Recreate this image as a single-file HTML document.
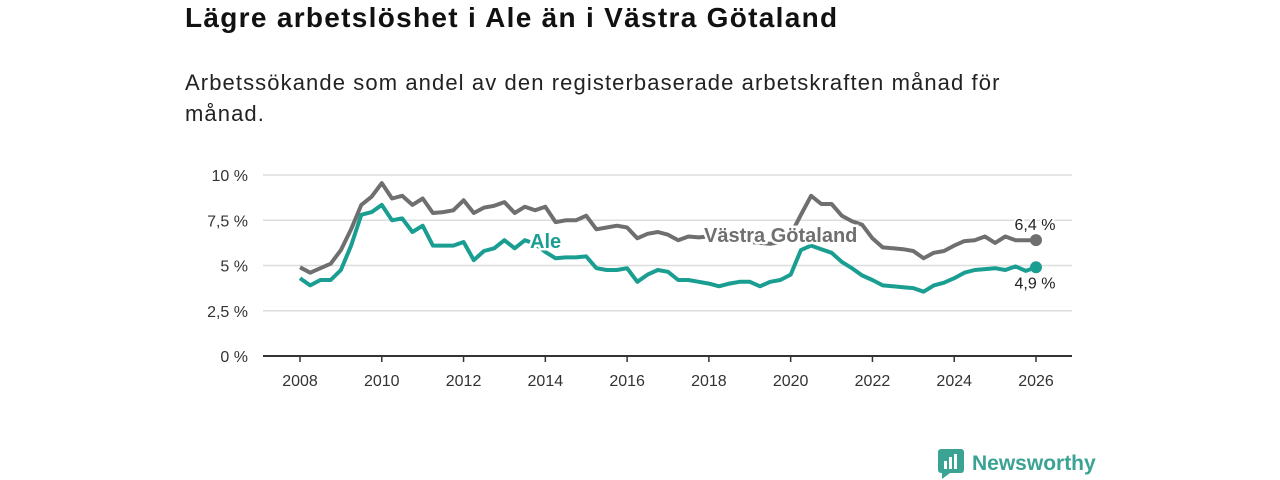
<!DOCTYPE html>
<html><head><meta charset="utf-8"><style>
body{margin:0;width:1280px;height:480px;background:#fff;font-family:"Liberation Sans",sans-serif;overflow:hidden;position:relative}
h1{position:absolute;left:185px;top:2px;margin:0;font-size:28px;letter-spacing:1.3px;font-weight:bold;color:#111}
p{position:absolute;left:185px;top:67px;margin:0;font-size:22px;letter-spacing:1.1px;line-height:31px;color:#222;width:860px}
svg{position:absolute;left:0;top:0}
</style></head><body>
<h1>Lägre arbetslöshet i Ale än i Västra Götaland</h1>
<p>Arbetssökande som andel av den registerbaserade arbetskraften månad för månad.</p>
<svg width="1280" height="480" id="chart"></svg>
<div style="position:absolute;left:938px;top:449px;display:flex;align-items:center;gap:8px">
<svg width="26" height="30" style="position:static"><rect x="0" y="0" width="26" height="24" rx="3" fill="#3aa394"/><polygon points="4,24 12,24 4,30" fill="#3aa394"/><rect x="6" y="12" width="3" height="8" fill="#fff"/><rect x="11" y="8" width="3" height="12" fill="#fff"/><rect x="16" y="5" width="3" height="15" fill="#fff"/></svg>
<span style="font-size:21px;font-weight:bold;color:#3aa394">Newsworthy</span></div>
<script>
const years=[2008,2010,2012,2014,2016,2018,2020,2022,2024,2026];
const yTicks=[0,2.5,5,7.5,10];
const yTickLabels=["0 %","2,5 %","5 %","7,5 %","10 %"];
const startYear=2008, step=0.25;
const vg=[4.9,4.6,4.85,5.1,5.85,7.0,8.35,8.8,9.55,8.7,8.85,8.35,8.7,7.9,7.95,8.05,8.6,7.9,8.2,8.3,8.5,7.9,8.25,8.05,8.25,7.4,7.5,7.5,7.75,7.0,7.1,7.2,7.1,6.5,6.75,6.85,6.7,6.4,6.6,6.55,6.6,6.55,6.5,6.4,6.3,6.25,6.2,6.3,6.7,7.8,8.85,8.4,8.4,7.75,7.45,7.25,6.5,6.0,5.95,5.9,5.8,5.4,5.7,5.8,6.1,6.35,6.4,6.6,6.25,6.6,6.4,6.4,6.4];
const ale=[4.3,3.9,4.2,4.2,4.75,6.1,7.8,7.95,8.35,7.5,7.6,6.85,7.2,6.1,6.1,6.1,6.3,5.3,5.8,5.95,6.4,5.95,6.4,6.2,5.75,5.4,5.45,5.45,5.5,4.85,4.75,4.75,4.85,4.1,4.5,4.75,4.65,4.2,4.2,4.1,4.0,3.85,4.0,4.1,4.1,3.85,4.1,4.2,4.5,5.85,6.1,5.9,5.7,5.2,4.85,4.45,4.2,3.9,3.85,3.8,3.75,3.55,3.9,4.05,4.3,4.6,4.75,4.8,4.85,4.75,4.95,4.7,4.9];
const NS="http://www.w3.org/2000/svg",svg=document.getElementById('chart');
const X=y=>300+(y-2008)*(1036-300)/18, Y=v=>356-v*18.1;
function mk(t,a){const e=document.createElementNS(NS,t);for(const k in a)e.setAttribute(k,a[k]);svg.appendChild(e);return e}
yTicks.forEach((t,i)=>{
 const g=mk('line',{x1:263,x2:1072,y1:Y(t),y2:Y(t),stroke:t===0?'#333':'#ddd','stroke-width':t===0?2:1.5});
 
 
 const l=mk('text',{x:248,y:Y(t)+6,'text-anchor':'end','font-size':16,fill:'#333','font-family':'Liberation Sans'});l.textContent=yTickLabels[i];
 
 
});
years.forEach(y=>{
 const t=mk('line',{x1:X(y),x2:X(y),y1:356,y2:362,stroke:'#333','stroke-width':1.5});
 
 
 const l=mk('text',{x:X(y),y:386,'text-anchor':'middle','font-size':16,fill:'#333','font-family':'Liberation Sans'});l.textContent=y;
 
 
});
function line(d,c,name){
 const p=mk('path',{d:d.map((v,i)=>(i?'L':'M')+X(startYear+i*step).toFixed(1)+','+Y(v).toFixed(1)).join(''),fill:'none',stroke:c,'stroke-width':4,'stroke-linejoin':'round'});
 
 
 const n=d.length-1;
 const c2=mk('circle',{cx:X(startYear+n*step),cy:Y(d[n]),r:6,fill:c});
 
 
}
line(vg,'#6f6f6f','vastra-gotaland-line');
line(ale,'#1a9e92','ale-line');
function lbl(x,y,t,c,name,anchor){
 const e=mk('text',{x:x,y:y,'font-size':20,'font-weight':'bold',fill:c,stroke:'#fff','stroke-width':5,'paint-order':'stroke','font-family':'Liberation Sans','text-anchor':anchor||'start'});e.textContent=t;
 
 
}
lbl(530,248,'Ale','#1a9e92','ale-series-label');
lbl(704,242,'Västra Götaland','#6f6f6f','vastra-gotaland-series-label');
function end(y,t,name){const e=mk('text',{x:1035,y:y,'text-anchor':'middle','font-size':16,fill:'#222',stroke:'#fff','stroke-width':4,'paint-order':'stroke','font-family':'Liberation Sans'});e.textContent=t;
 
 }
end(Y(vg[vg.length-1])-10,'6,4 %','vg-end-value');
end(Y(ale[ale.length-1])+21,'4,9 %','ale-end-value');
</script>
</body></html>
